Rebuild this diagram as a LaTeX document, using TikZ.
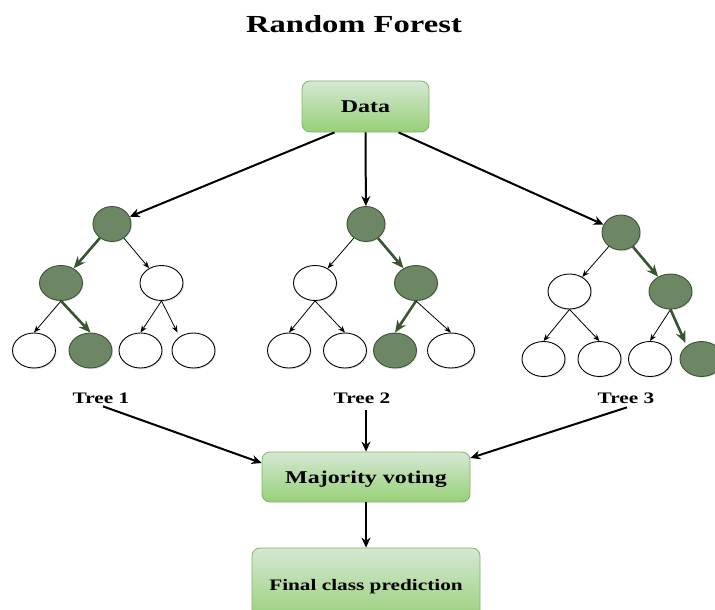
\documentclass[tikz,border=0pt]{standalone}
\usepackage{fontspec}
\setmainfont{Liberation Serif}[FakeStretch=1.33]
\usetikzlibrary{arrows.meta,shadows,shapes.geometric}
\definecolor{darknode}{HTML}{6D8764}
\definecolor{darkline}{HTML}{3A5431}
\definecolor{boxtop}{HTML}{D5E8D4}
\definecolor{boxbot}{HTML}{97D077}
\definecolor{boxline}{HTML}{82B366}
\tikzset{
  lf/.style={ellipse, draw=black, line width=0.9pt, fill=white, minimum width=43pt, minimum height=35pt, inner sep=0pt,
    drop shadow={opacity=0.2, shadow xshift=1.2pt, shadow yshift=-1.2pt}},
  dk/.style={lf, draw=darkline, fill=darknode},
  rt/.style={minimum width=38pt},
  thin/.style={draw=black, line width=0.8pt, -{Stealth[length=7pt,width=5.5pt]}},
  hot/.style={draw=darkline, line width=2.6pt, -{Stealth[length=12pt,width=10pt]}},
  big/.style={draw=black, line width=2pt, -{Stealth[length=10pt,width=9pt]}},
  gbox/.style={rectangle, rounded corners=8pt, draw=boxline, line width=0.8pt, top color=boxtop, bottom color=boxbot,
    font=\bfseries, text depth=0pt, inner sep=0pt},
  lbl/.style={font=\bfseries\fontsize{16}{18}\selectfont, anchor=base, inner sep=0pt}
}
\begin{document}
\begin{tikzpicture}[x=1pt,y=-1pt]
\useasboundingbox (0,0) rectangle (715,610);
% title
\node[font=\bfseries\fontsize{24.5}{28}\selectfont, anchor=base, inner sep=0pt] (title) at (354,33) {Random Forest};
% data box
\node[gbox, minimum width=127pt, minimum height=51pt, font=\bfseries\fontsize{18}{20}\selectfont] (data) at (365.5,106.5) {Data};
% tree 1
\node[dk, rt] (a0) at (112,224) {};
\node[dk] (a1) at (61,283) {};
\node[lf] (a2) at (161.5,283) {};
\node[lf] (a3) at (34,350.5) {};
\node[dk] (a4) at (90.5,350.5) {};
\node[lf] (a5) at (140.5,350.5) {};
\node[lf] (a6) at (193.5,350.5) {};
% tree 2
\node[dk, rt] (b0) at (366,224) {};
\node[lf] (b1) at (315,283) {};
\node[dk] (b2) at (416,283) {};
\node[lf] (b3) at (289,350.5) {};
\node[lf] (b4) at (345,350.5) {};
\node[dk] (b5) at (395,350.5) {};
\node[lf, minimum width=47pt] (b6) at (451,350.5) {};
% tree 3
\node[dk, rt] (c0) at (621,232.5) {};
\node[lf] (c1) at (569.5,291.5) {};
\node[dk] (c2) at (670.5,291.5) {};
\node[lf] (c3) at (543.5,359) {};
\node[lf] (c4) at (599.5,359) {};
\node[lf] (c5) at (650,359) {};
\node[dk] (c6) at (701.5,359) {};
% labels
\node[lbl] (t1) at (101,403) {Tree 1};
\node[lbl] (t2) at (362,403) {Tree 2};
\node[lbl] (t3) at (626,403) {Tree 3};
% majority and final
\node[gbox, minimum width=208pt, minimum height=50pt, font=\bfseries\fontsize{18}{20}\selectfont] (maj) at (366,477) {Majority voting};
\node[gbox, minimum width=228pt, minimum height=74pt, font=\bfseries\fontsize{16}{18}\selectfont] (fin) at (366,585) {Final class prediction};
% data arrows
\draw[big] ([xshift=-31pt]data.south) -- (a0);
\draw[big] (data.south) -- (b0);
\draw[big] ([xshift=33pt]data.south) -- (c0);
% tree 1 edges
\draw[hot] (a0) -- (a1);
\draw[thin] (a0) -- (a2);
\draw[thin] (a1.south) -- (a3.north);
\draw[hot] (a1.south) -- (a4.north);
\draw[thin] (a2.south) -- (a5.north);
\draw[thin] (a2.south) -- ([xshift=-16pt]a6.north);
% tree 2 edges
\draw[thin] (b0) -- (b1);
\draw[hot] (b0) -- (b2);
\draw[thin] (b1.south) -- (b3.north);
\draw[thin] (b1.south) -- (b4.north);
\draw[hot] (b2.south) -- (b5.north);
\draw[thin] (b2.south) -- (b6.north);
% tree 3 edges
\draw[thin] (c0) -- (c1);
\draw[hot] (c0) -- (c2);
\draw[thin] (c1.south) -- (c3.north);
\draw[thin] (c1.south) -- (c4.north);
\draw[thin] (c2.south) -- (c5.north);
\draw[hot] (c2.south) -- ([xshift=-16pt,yshift=-2pt]c6.north);
% label arrows
\draw[big] ([xshift=2pt,yshift=-3pt]t1.south) -- ([yshift=14pt]maj.west);
\draw[big] ([yshift=-7pt]maj.north |- t2.south) -- (maj.north);
\draw[big] ([xshift=1pt,yshift=-4pt]t3.south) -- ([yshift=19pt]maj.east);
\draw[big] (maj.south) -- (fin.north);
\end{tikzpicture}
\end{document}
